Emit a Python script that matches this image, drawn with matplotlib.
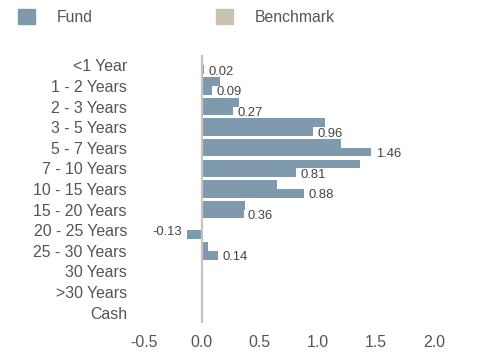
import matplotlib
matplotlib.use('Agg')
import matplotlib.pyplot as plt
from matplotlib.patches import Patch
import numpy as np

plt.rcParams.update({
    'font.family': ['Liberation Sans', 'DejaVu Sans'],
    'font.size': 11,
    'text.color': '#555555',
})

# ── data ─────────────────────────────────────────────────────
categories = ['<1 Year', '1 - 2 Years', '2 - 3 Years', '3 - 5 Years',
              '5 - 7 Years', '7 - 10 Years', '10 - 15 Years', '15 - 20 Years',
              '20 - 25 Years', '25 - 30 Years', '30 Years', '>30 Years', 'Cash']
fund = [0.02, 0.09, 0.27, 0.96, 1.46, 0.81, 0.88, 0.36, -0.13, 0.14,
        None, None, None]
benchmark = [0.0, 0.16, 0.32, 1.06, 1.20, 1.36, 0.65, 0.37, 0.0, 0.05,
             None, None, None]
xticks = [-0.5, 0.0, 0.5, 1.0, 1.5, 2.0]

C_FUND = '#809AAD'
C_BENCH = '#C9C2B1'

fig = plt.figure(figsize=(4.85, 3.53), dpi=100)
ax = fig.add_axes([132 / 485, 30 / 353, 337 / 485, 268 / 353])

y = np.arange(len(categories))
f_vals = np.array([np.nan if v is None else v for v in fund])
b_vals = np.array([np.nan if v is None else v for v in benchmark])
h = 0.42

# benchmark bars come out in the fund colour in the reference
ax.barh(y - h / 2, np.nan_to_num(b_vals), height=h, color=C_FUND, zorder=2)
ax.barh(y + h / 2, np.nan_to_num(f_vals), height=h, color=C_FUND, zorder=2)

for yi, v in zip(y, f_vals):
    if np.isnan(v):
        continue
    if v >= 0:
        ax.annotate(f'{v:.2f}', xy=(v, yi + h / 2), xytext=(3, -1.5),
                    textcoords='offset points', ha='left', va='center',
                    fontsize=9.4, color='#444444')
    else:
        ax.annotate(f'{v:.2f}', xy=(v, yi + h / 2 - 0.1), xytext=(-3, 0),
                    textcoords='offset points', ha='right', va='center',
                    fontsize=9.4, color='#444444')

ax.axvline(0, color='#C4C4C4', lw=1.6, zorder=3)

ax.set_xlim(-0.6, 2.3)
ax.set_ylim(12.5, -0.5)
ax.set_yticks(y)
ax.set_yticklabels(categories)
ax.set_xticks(xticks)
ax.set_xticklabels([f'{t:.1f}' for t in xticks])
ax.tick_params(axis='both', length=0, labelsize=11.4, colors='#555555')
ax.tick_params(axis='y', pad=3.6)
ax.tick_params(axis='x', pad=8.3)
for s in ax.spines.values():
    s.set_visible(False)

handles = [Patch(color=C_FUND, label='Fund'),
           Patch(color=C_BENCH, label='Benchmark')]
fig.legend(handles=handles, loc='upper left', bbox_to_anchor=(12 / 485, 1 - 3 / 353),
           ncol=2, frameon=False, fontsize=11.3, handlelength=1.08,
           handleheight=1.08, handletextpad=1.4, columnspacing=7.8,
           borderaxespad=0)

fig.savefig('out.png', dpi=100)
